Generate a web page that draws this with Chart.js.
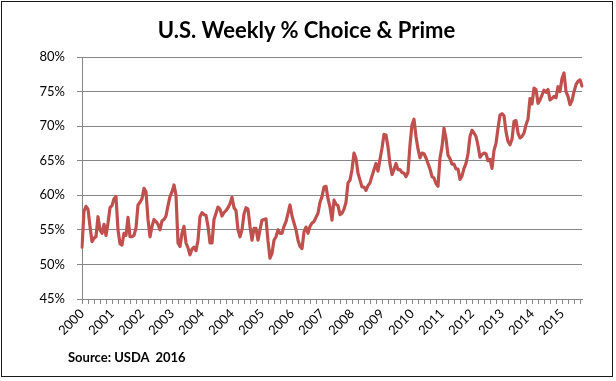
<!DOCTYPE html>
<html>
<head>
<meta charset="utf-8">
<script src="https://cdn.jsdelivr.net/npm/chart.js@4/dist/chart.umd.min.js"></script>
<style>
  html, body { margin: 0; padding: 0; background: #fff; }
  #wrap { position: relative; width: 616px; height: 381px; overflow: hidden; background: #fff; }
  #frame { position: absolute; left: 1px; top: 1px; width: 612px; height: 376px; border: 1px solid #1a1a1a; box-sizing: border-box; }
  #title { position: absolute; left: 0; top: 16px; width: 613px; text-align: center; font: bold 22px Lato, sans-serif; color: #000; white-space: nowrap; }
  #source { position: absolute; left: 68px; top: 349px; font: bold 13px Lato, sans-serif; color: #000; white-space: pre; }
  canvas { position: absolute; left: 0; top: 0; }
</style>
</head>
<body>
<div id="wrap">
  <canvas id="c" width="616" height="381"></canvas>
  <div id="title">U.S. Weekly % Choice &amp; Prime</div>
  <div id="source">Source: USDA  2016</div>
  <div id="frame"></div>
</div>
<script>
// Tick labels as printed on the original axis (note the repeated 2004)
const yearLabels = ['2000','2001','2002','2003','2004','2004','2005','2006','2007','2008','2009','2010','2011','2012','2013','2014','2015'];
const yTicks = [45, 50, 55, 60, 65, 70, 75, 80];
// % Choice & Prime (roughly every 3 weeks)
const choicePrime = [
  52.5, 57.7, 58.4, 58.0, 55.5, 53.3, 53.8, 54.0, 56.9, 55.0,
  54.5, 55.8, 54.2, 56.0, 58.2, 58.5, 59.5, 59.8, 55.0, 53.0,
  52.8, 54.5, 54.2, 56.8, 54.0, 54.0, 54.2, 55.3, 58.6, 59.0,
  59.5, 61.0, 60.5, 56.5, 54.0, 55.5, 56.5, 56.2, 55.8, 55.0,
  56.3, 56.5, 57.0, 58.5, 59.8, 60.5, 61.5, 60.0, 53.1, 52.6,
  54.5, 55.5, 53.1, 52.4, 51.4, 52.2, 52.5, 52.0, 53.5, 56.9,
  57.5, 57.2, 57.1, 55.5, 53.1, 53.1, 56.5, 57.4, 58.3, 58.0,
  57.0, 57.5, 57.8, 58.2, 58.8, 59.7, 58.2, 57.8, 55.0, 54.0,
  55.0, 57.3, 58.2, 58.0, 55.5, 53.5, 55.2, 55.2, 53.5, 55.0,
  56.4, 56.5, 56.6, 53.4, 50.9, 51.6, 53.5, 54.0, 55.0, 54.5,
  54.5, 55.5, 56.2, 57.4, 58.6, 57.0, 56.0, 55.0, 53.5, 52.6,
  52.3, 54.7, 55.4, 54.5, 55.5, 56.0, 56.2, 56.8, 57.4, 59.0,
  59.8, 61.2, 61.3, 59.5, 58.3, 56.4, 59.3, 58.7, 58.5, 57.2,
  57.4, 58.0, 59.0, 61.8, 62.2, 63.7, 66.1, 65.3, 63.2, 62.2,
  61.2, 61.2, 60.7, 61.4, 61.8, 62.8, 63.7, 64.6, 63.5, 65.2,
  66.8, 68.8, 68.7, 67.0, 64.5, 63.0, 63.7, 64.6, 63.7, 63.7,
  63.3, 63.2, 62.7, 63.3, 67.3, 70.2, 71.0, 68.5, 66.7, 65.4,
  66.1, 66.0, 65.4, 64.6, 63.8, 62.7, 62.5, 61.7, 61.3, 65.4,
  67.0, 69.7, 68.2, 65.8, 65.3, 64.5, 64.5, 63.8, 63.8, 62.3,
  62.8, 63.9, 64.6, 66.0, 68.5, 69.4, 69.0, 68.5, 67.2, 65.5,
  65.9, 66.1, 66.0, 65.0, 65.2, 63.9, 66.5, 67.5, 69.7, 71.6,
  71.8, 71.5, 69.2, 67.8, 67.3, 68.1, 70.7, 70.8, 69.0, 68.3,
  68.5, 69.0, 70.2, 71.0, 74.0, 73.2, 75.5, 75.3, 73.3, 73.8,
  74.5, 75.2, 74.9, 75.3, 73.8, 74.0, 74.3, 74.1, 75.7, 75.0,
  76.9, 77.7, 75.0, 74.3, 73.1, 73.7, 75.0, 76.0, 76.5, 76.7,
  75.8
];
const LABEL_EVERY = 15;   // points between year labels
const TICK_EVERY = 3;     // points between axis tick marks
const categories = choicePrime.map((_, i) => yearLabels[Math.min(yearLabels.length - 1, Math.floor(i / LABEL_EVERY))]);

const axisFont = { family: 'Lato, sans-serif', size: 13 };
const gridGray = '#868686';

new Chart(document.getElementById('c'), {
  type: 'line',
  data: {
    labels: categories,
    datasets: [{
      data: choicePrime,
      borderColor: '#C0504D',
      borderWidth: 3.2,
      pointRadius: 0,
      tension: 0,
      fill: false,
      borderJoinStyle: 'round',
      borderCapStyle: 'round'
    }]
  },
  options: {
    responsive: false,
    animation: false,
    devicePixelRatio: 1,
    layout: { padding: { top: 57, left: 0, right: 34, bottom: 0 } },
    plugins: { legend: { display: false }, tooltip: { enabled: false }, title: { display: false } },
    scales: {
      x: {
        type: 'category',
        offset: false,
        grid: {
          drawOnChartArea: false,
          drawTicks: true,
          tickLength: 5,
          color: ctx => (ctx.index % TICK_EVERY === 0 ? gridGray : 'rgba(0,0,0,0)')
        },
        border: { color: gridGray, width: 1 },
        ticks: {
          autoSkip: false,
          minRotation: 45,
          maxRotation: 45,
          padding: 2,
          color: '#000',
          font: axisFont,
          callback: (v, i) => (i % LABEL_EVERY === 0 && i / LABEL_EVERY < yearLabels.length ? yearLabels[i / LABEL_EVERY] : '')
        },
        afterFit: s => { s.height = 82; }
      },
      y: {
        min: yTicks[0],
        max: yTicks[yTicks.length - 1],
        afterBuildTicks: s => { s.ticks = yTicks.map(v => ({ value: v })); },
        grid: { color: gridGray, tickLength: 5, drawTicks: true },
        border: { color: gridGray, width: 1 },
        ticks: { padding: 12, color: '#000', font: axisFont, callback: v => v + '%' },
        afterFit: s => { s.width = 82; }
      }
    }
  }
});
</script>
</body>
</html>
